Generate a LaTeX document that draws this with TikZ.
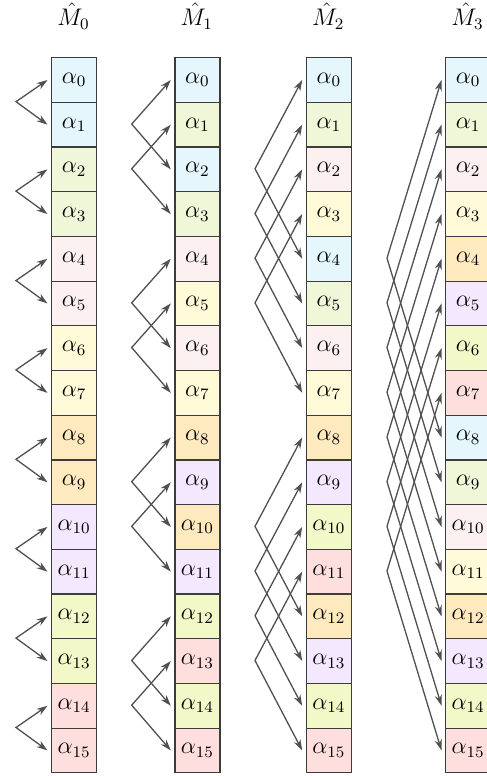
\documentclass[tikz,border=0pt]{standalone}
\usetikzlibrary{arrows.meta}
\definecolor{c0}{RGB}{229,246,253}
\definecolor{c1}{RGB}{240,247,216}
\definecolor{c2}{RGB}{253,240,240}
\definecolor{c3}{RGB}{255,250,215}
\definecolor{c4}{RGB}{255,233,190}
\definecolor{c5}{RGB}{243,232,253}
\definecolor{c6}{RGB}{242,248,200}
\definecolor{c7}{RGB}{255,222,222}
\definecolor{boxline}{RGB}{60,60,60}
\definecolor{arrowgray}{RGB}{80,80,80}
\begin{document}
\begin{tikzpicture}[x=0.5pt,y=-0.5pt,
  every node/.style={font=\large},
  cell/.style={draw=boxline, line width=0.6pt, minimum width=22.5pt, minimum height=22.35pt, inner sep=0pt, anchor=north west},
  link/.style={draw=arrowgray, line width=0.65pt, {Stealth[length=5.5pt,width=3.6pt]}-{Stealth[length=5.5pt,width=3.6pt]}},
  title/.style={inner sep=0pt}]
\useasboundingbox (0,0) rectangle (487,776);
% titles
\node[title] (t0) at (73.5,16) {$\hat{M}_0$};
\node[title] (t1) at (196.8,16) {$\hat{M}_1$};
\node[title] (t2) at (328.2,16) {$\hat{M}_2$};
\node[title] (t3) at (467.5,16) {$\hat{M}_3$};
% column 0
\foreach \c [count=\i from 0] in {0,0,1,1,2,2,3,3,4,4,5,5,6,6,7,7}
  \node[cell, fill=c\c] (m0-\i) at (51,57+44.7*\i) {$\alpha_{\i}$};
% column 1
\foreach \c [count=\i from 0] in {0,1,0,1,2,3,2,3,4,5,4,5,6,7,6,7}
  \node[cell, fill=c\c] (m1-\i) at (174.3,57+44.7*\i) {$\alpha_{\i}$};
% column 2
\foreach \c [count=\i from 0] in {0,1,2,3,0,1,2,3,4,5,6,7,4,5,6,7}
  \node[cell, fill=c\c] (m2-\i) at (305.7,57+44.7*\i) {$\alpha_{\i}$};
% column 3
\foreach \c [count=\i from 0] in {0,1,2,3,4,5,6,7,0,1,2,3,4,5,6,7}
  \node[cell, fill=c\c] (m3-\i) at (445,57+44.7*\i) {$\alpha_{\i}$};
% chevrons column 0
\foreach \i [evaluate=\i as \j using int(\i+1)] in {0,2,4,6,8,10,12,14}{
  \coordinate (a0-\i) at (16,57+44.7*\i+44.7);
  \path[link] ([xshift=-1.75pt]m0-\i.west) -- (a0-\i) -- ([xshift=-1.75pt]m0-\j.west);
}
% chevrons column 1
\foreach \i [evaluate=\i as \j using int(\i+2)] in {0,1,4,5,8,9,12,13}{
  \coordinate (a1-\i) at (131.7,57+44.7*\i+67.05);
  \path[link] ([xshift=-1.75pt]m1-\i.west) -- (a1-\i) -- ([xshift=-1.75pt]m1-\j.west);
}
% chevrons column 2
\foreach \i [evaluate=\i as \j using int(\i+4)] in {0,1,2,3,8,9,10,11}{
  \coordinate (a2-\i) at (255,57+44.7*\i+111.75);
  \path[link] ([xshift=-1.75pt]m2-\i.west) -- (a2-\i) -- ([xshift=-1.75pt]m2-\j.west);
}
% chevrons column 3
\foreach \i [evaluate=\i as \j using int(\i+8)] in {0,1,2,3,4,5,6,7}{
  \coordinate (a3-\i) at (387,57+44.7*\i+201.15);
  \path[link] ([xshift=-1.75pt]m3-\i.west) -- (a3-\i) -- ([xshift=-1.75pt]m3-\j.west);
}
\end{tikzpicture}
\end{document}
